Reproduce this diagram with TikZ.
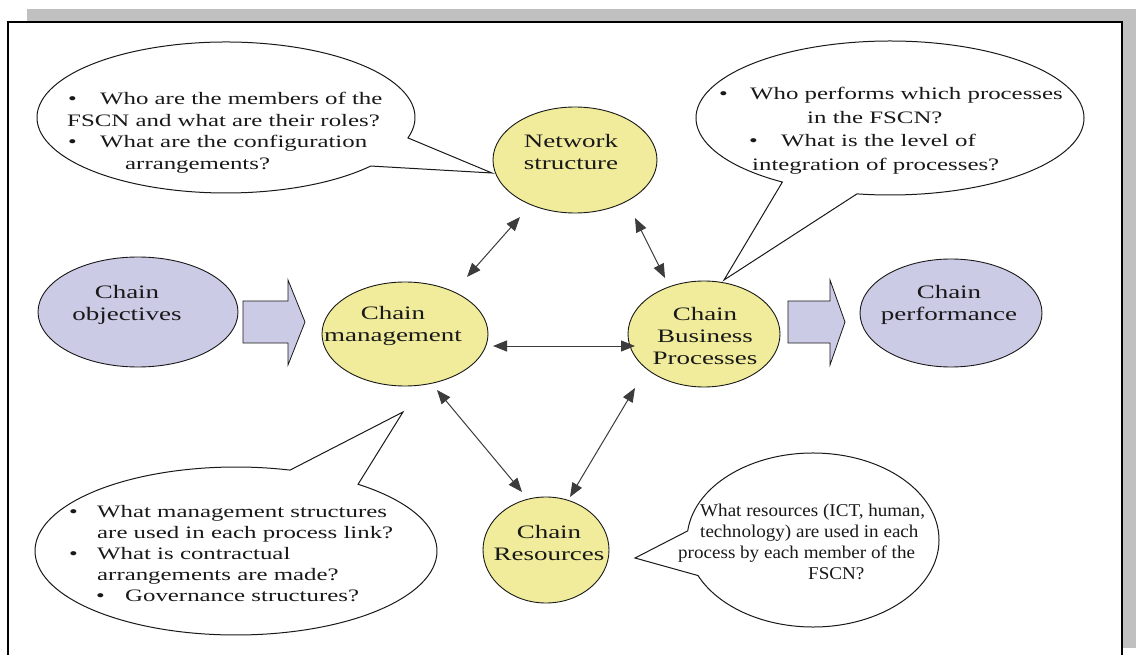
\documentclass[tikz,border=0pt]{standalone}
\usepackage{fontspec}
\setmainfont{Liberation Serif}[FakeStretch=1.42]
\newfontfamily\plainserif{Liberation Serif}[FakeStretch=1.06]
\usetikzlibrary{shapes.geometric,arrows.meta,calc}
\definecolor{lavender}{RGB}{203,203,230}
\definecolor{paleyellow}{RGB}{241,236,155}
\definecolor{shadowgray}{RGB}{192,192,192}
\definecolor{ink}{RGB}{25,25,25}

\begin{document}
\begin{tikzpicture}[x=1pt,y=1pt,yscale=-1,
  goal/.style={ellipse, draw=ink, line width=0.9pt, fill=lavender, inner sep=0pt},
  part/.style={ellipse, draw=ink, line width=0.9pt, fill=paleyellow, inner sep=0pt},
  nodetext/.style={align=center, inner sep=0pt, text=ink, font=\fontsize{19}{22}\selectfont},
  bubble/.style={draw=ink, line width=1pt, fill=white},
  bubbletext/.style={align=left, inner sep=0pt, text=ink, anchor=north west},
  blockarrow/.style={draw=ink, line width=0.8pt, fill=lavender, line join=miter},
  link/.style={draw=ink!85, line width=1pt,
    {Triangle[length=14pt,width=11pt]}-{Triangle[length=14pt,width=11pt]}},
]
\useasboundingbox (0,0) rectangle (1136,655);

% page frame with its drop shadow
\fill[shadowgray] (27,9) rectangle (1136,648);
\filldraw[fill=white, draw=black, line width=1.6pt] (8,22) rectangle (1122,690);

% speech bubbles
\draw[bubble] (226,117.5) ++(15.7:189 and 75.5)
  arc[start angle=15.7, end angle=-320, x radius=189, y radius=75.5] -- (492,173) -- cycle;
\draw[bubble] (890,118) ++(123.7:194 and 77)
  arc[start angle=123.7, end angle=459.8, x radius=194, y radius=77] -- (724,280) -- cycle;
\draw[bubble] (236,551) ++(-52.6:201 and 84)
  arc[start angle=-52.6, end angle=285.6, x radius=201, y radius=84] -- (403,412) -- cycle;
\draw[bubble] (813,540) ++(186:126 and 87)
  arc[start angle=186, end angle=515.9, x radius=126, y radius=87] -- (635,558) -- cycle;

\node[bubbletext, font=\fontsize{17.5}{21.5}\selectfont] (q-network) at (67,92)
  {\makebox[33pt][l]{\hspace*{1pt}•}Who are the members of the\\
   FSCN and what are their roles?\\
   \makebox[33pt][l]{\hspace*{1pt}•}What are the configuration\\
   \hspace*{58pt}arrangements?};
\node[bubbletext, font=\fontsize{17.5}{23.5}\selectfont] (q-process) at (719,87)
  {\makebox[31pt][l]{•}Who performs which processes\\
   \hspace*{88pt}in the FSCN?\\
   \hspace*{30pt}\makebox[32pt][l]{•}What is the level of\\
   \hspace*{33pt}integration of processes?};
\node[bubbletext, font=\fontsize{17.5}{21}\selectfont] (q-management) at (69,505)
  {\makebox[28pt][l]{•}What management structures\\
   \hspace*{28pt}are used in each process link?\\
   \makebox[28pt][l]{•}What is contractual\\
   \hspace*{28pt}arrangements are made?\\
   \hspace*{27pt}\makebox[29pt][l]{•}Governance structures?};
\node[bubbletext, font=\plainserif\fontsize{18}{21}\selectfont] (q-resources) at (678,504)
  {\hspace*{22pt}What resources (ICT, human,\\
   \hspace*{22pt}technology) are used in each\\
   process by each member of the\\
   \hspace*{130pt}FSCN?};

% block arrows: objectives in, performance out
\draw[blockarrow] (243,301) -- (288,301) -- (288,280) -- (305,322) -- (288,365)
  -- (288,343) -- (243,343) -- cycle;
\draw[blockarrow] (788,301) -- (830,301) -- (830,280) -- (845,322) -- (830,365)
  -- (830,343) -- (788,343) -- cycle;

% ellipses
\node[goal, minimum width=200pt, minimum height=110pt] (obj) at (138,312) {};
\node[part, minimum width=166pt, minimum height=104pt] (cm) at (405,334) {};
\node[part, minimum width=164pt, minimum height=106pt] (ns) at (575,160) {};
\node[part, minimum width=152pt, minimum height=106pt] (cbp) at (704,334) {};
\node[goal, minimum width=182pt, minimum height=108pt] (perf) at (951,313) {};
\node[part, minimum width=126pt, minimum height=106pt] (cr) at (546,550) {};

\node[nodetext] (obj-t) at (127,305) {Chain\\objectives};
\node[nodetext] (cm-t) at (393,326) {Chain\\management};
\node[nodetext] (ns-t) at (571,152) {Network\\structure};
\node[nodetext] (cbp-t) at (705,336) {Chain\\Business\\Processes};
\node[nodetext] (perf-t) at (949,305) {Chain\\performance};
\node[nodetext] (cr-t) at (549,543) {Chain\\Resources};

% two-way links between the chain elements
\coordinate (cm-up) at (467,277);   \coordinate (ns-left) at (520,217);
\coordinate (ns-right) at (635,218); \coordinate (cbp-up) at (665,278);
\coordinate (cm-right) at (493,346); \coordinate (cbp-left) at (635,346);
\coordinate (cm-down) at (437,390); \coordinate (cr-left) at (522,492);
\coordinate (cbp-down) at (635,388); \coordinate (cr-right) at (570,497);
\draw[link] (cm-up) -- (ns-left);
\draw[link] (ns-right) -- (cbp-up);
\draw[link] (cm-right) -- (cbp-left);
\draw[link] (cm-down) -- (cr-left);
\draw[link] (cbp-down) -- (cr-right);
\end{tikzpicture}
\end{document}
